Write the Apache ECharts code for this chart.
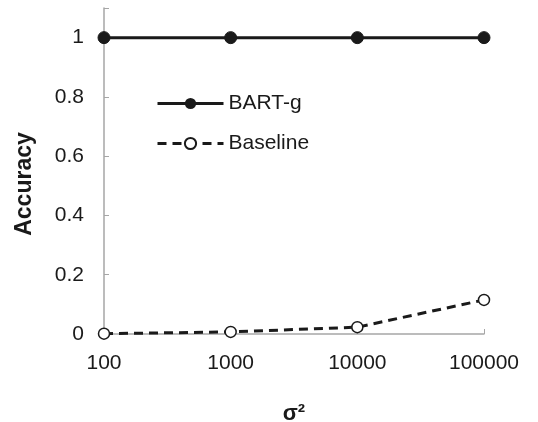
<!DOCTYPE html>
<html><head><meta charset="utf-8">
<script src="https://cdn.jsdelivr.net/npm/echarts@6/dist/echarts.min.js"></script>
<style>html,body{margin:0;padding:0;background:#fff}#c{width:538px;height:422px}</style>
</head><body><div id="c"></div>
<script>
const categories = ['100', '1000', '10000', '100000'];
const bartG = [1, 1, 1, 1];
const baseline = [0.001, 0.007, 0.023, 0.115];
const yTicks = [0, 0.2, 0.4, 0.6, 0.8, 1];

const chart = echarts.init(document.getElementById('c'), null, {renderer: 'canvas'});
const font = 'Liberation Sans, Arial, sans-serif';
chart.setOption({
  animation: false,
  backgroundColor: '#fff',
  grid: {left: 104, right: 54, top: 8, bottom: 88, containLabel: false, outerBoundsMode: 'none'},
  legend: {
    left: 151, top: 88, orient: 'vertical', itemGap: 19,
    itemWidth: 66, itemHeight: 14,
    lineStyle: {width: 3},
    textStyle: {fontFamily: font, fontSize: 21, color: '#1a1a1a'},
    data: ['BART-g', 'Baseline']
  },
  xAxis: {
    type: 'category', data: categories, boundaryGap: false,
    axisLine: {lineStyle: {color: '#a6a6a6', width: 1.5}},
    axisTick: {inside: true, length: 5, lineStyle: {color: '#a6a6a6'}},
    axisLabel: {fontFamily: font, fontSize: 21, color: '#1a1a1a', margin: 19},
    name: 'σ²', nameLocation: 'middle', nameGap: 69,
    nameTextStyle: {fontFamily: font, fontSize: 22, fontWeight: 'bold', color: '#1a1a1a'}
  },
  yAxis: {
    type: 'value', min: 0, max: 1.1, interval: 0.2,
    splitLine: {show: false},
    axisLine: {show: true, lineStyle: {color: '#a6a6a6', width: 1.5}},
    axisTick: {show: true, inside: true, length: 5, lineStyle: {color: '#a6a6a6'}},
    axisLabel: {fontFamily: font, fontSize: 21, color: '#1a1a1a', margin: 20,
      formatter: v => yTicks.some(t => Math.abs(t - v) < 1e-9) ? String(+v.toFixed(1)) : ''},
    name: 'Accuracy', nameLocation: 'middle', nameGap: 68,
    nameTextStyle: {fontFamily: font, fontSize: 23, fontWeight: 'bold', color: '#1a1a1a', padding: [0, 26, 0, 0]}
  },
  series: [
    {name: 'BART-g', type: 'line', data: bartG, symbol: 'circle', symbolSize: 12,
     lineStyle: {color: '#1a1a1a', width: 3}, itemStyle: {color: '#1a1a1a', borderColor: '#1a1a1a'}},
    {name: 'Baseline', type: 'line', data: baseline, symbol: 'circle', symbolSize: 11,
     lineStyle: {color: '#1a1a1a', width: 3, type: [9, 6]},
     itemStyle: {color: '#fff', borderColor: '#1a1a1a', borderWidth: 1.5}}
  ]
});
</script></body></html>
